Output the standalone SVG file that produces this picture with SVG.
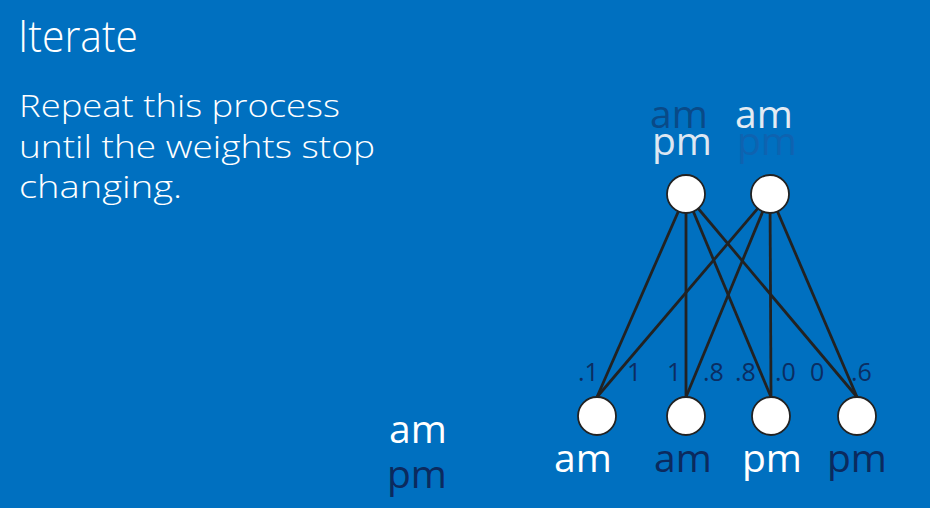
<svg xmlns="http://www.w3.org/2000/svg" width="930" height="508" viewBox="0 0 930 508">
<style>
.t{font-family:"Open Sans","Liberation Sans",sans-serif;font-weight:300;fill:#ffffff}
.l{font-family:"Open Sans","Liberation Sans",sans-serif;font-size:39px}
.w{font-family:"Open Sans","Liberation Sans",sans-serif;font-size:25px;fill:#0b2d62}
.e{stroke:#222222;stroke-width:2.8;fill:none}
.n{fill:#ffffff;stroke:#222222;stroke-width:1.8}
.navy{fill:#0b2a5e}
.white{fill:#ffffff}
</style>
<rect x="0" y="0" width="930" height="508" fill="#0070c0"/>
<g id="title">
<text class="t" x="18" y="52" font-size="45" textLength="120" lengthAdjust="spacingAndGlyphs">Iterate</text>
</g>
<g id="body">
<text class="t" x="19" y="117" font-size="32" textLength="321" lengthAdjust="spacingAndGlyphs">Repeat this process</text>
<text class="t" x="19" y="158" font-size="32" textLength="356" lengthAdjust="spacingAndGlyphs">until the weights stop</text>
<text class="t" x="19" y="198" font-size="32" textLength="163" lengthAdjust="spacingAndGlyphs">changing.</text>
</g>
<g id="connectors">
<line class="e" x1="686" y1="194" x2="597" y2="397"/>
<line class="e" x1="686" y1="194" x2="686" y2="397"/>
<line class="e" x1="686" y1="194" x2="771" y2="397"/>
<line class="e" x1="686" y1="194" x2="857" y2="397"/>
<line class="e" x1="770" y1="194" x2="597" y2="397"/>
<line class="e" x1="770" y1="194" x2="686" y2="397"/>
<line class="e" x1="770" y1="194" x2="771" y2="397"/>
<line class="e" x1="770" y1="194" x2="857" y2="397"/>
</g>
<g id="weights">
<text class="w" x="578" y="381">.1</text>
<text class="w" x="627" y="381">1</text>
<text class="w" x="667" y="381">1</text>
<text class="w" x="703" y="381">.8</text>
<text class="w" x="735" y="381">.8</text>
<text class="w" x="775" y="381">.0</text>
<text class="w" x="810" y="381">0</text>
<text class="w" x="851" y="381">.6</text>
</g>
<g id="top-left">
<circle class="n" cx="686" cy="194" r="19"/>
<text class="l" x="650" y="128" fill="#094a88">am</text>
<text class="l" x="652" y="155" fill="#dde7f2">pm</text>
</g>
<g id="top-right">
<circle class="n" cx="770" cy="194" r="19"/>
<text class="l" x="735" y="128" fill="#e3ebf3">am</text>
<text class="l" x="737" y="155" fill="#0e63b0">pm</text>
</g>
<g id="bottom-1">
<circle class="n" cx="597" cy="416" r="19"/>
<text class="l white" x="554" y="472">am</text>
</g>
<g id="bottom-2">
<circle class="n" cx="686" cy="416" r="19"/>
<text class="l navy" x="654" y="472">am</text>
</g>
<g id="bottom-3">
<circle class="n" cx="771" cy="416" r="19"/>
<text class="l white" x="742" y="472">pm</text>
</g>
<g id="bottom-4">
<circle class="n" cx="857" cy="416" r="19"/>
<text class="l navy" x="827" y="472">pm</text>
</g>
<g id="legend">
<text class="l white" x="389" y="443">am</text>
<text class="l navy" x="387" y="488">pm</text>
</g>
</svg>
